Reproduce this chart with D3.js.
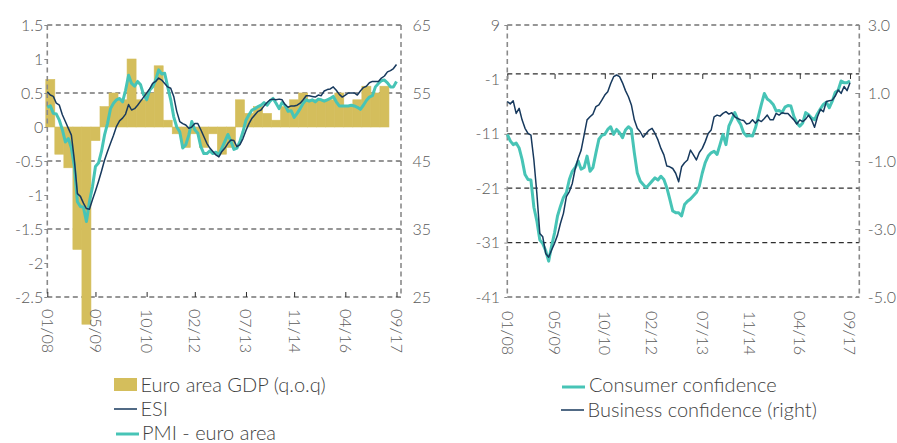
<!DOCTYPE html>
<html>
<head>
<meta charset="utf-8">
<script src="https://cdn.jsdelivr.net/npm/d3@7"></script>
<style>
  body { margin: 0; background: #fff; }
  text { font-family: Lato, "Open Sans", sans-serif; font-weight: 300; }
</style>
</head>
<body>
<script>
// x axis labels (month index from 01/2008)
var monthTicks = [0, 16, 33, 49, 66, 82, 99, 116];
var monthLabels = ["01/08", "05/09", "10/10", "02/12", "07/13", "11/14", "04/16", "09/17"];

// quarterly GDP q.o.q, 2008Q1 - 2017Q2
var gdpQoq = [0.7, -0.4, -0.6, -1.8, -2.9, -0.2, 0.3, 0.5,
  0.4, 1.0, 0.4, 0.5, 0.9, 0.1, -0.1, -0.3,
  -0.1, -0.3, -0.1, -0.4, -0.3, 0.4, 0.2, 0.3,
  0.2, 0.1, 0.3, 0.4, 0.5, 0.4, 0.4, 0.4,
  0.5, 0.3, 0.4, 0.6, 0.5, 0.6];

// monthly, 01/2008 - 09/2017 (right axis of left chart)
var esi = [55.2, 54.7, 54.5, 53.5, 53.2, 51.8, 50.8, 49.8, 48.8, 45.1,
  40.2, 39.8, 38.8, 38.0, 37.9, 39.3, 40.6, 42.0, 43.5, 45.1,
  46.4, 47.6, 48.8, 50.1, 50.9, 51.3, 51.9, 53.3, 52.5, 52.7,
  53.2, 53.8, 54.4, 55.0, 55.6, 56.4, 56.7, 57.2, 56.9, 56.4,
  55.9, 55.7, 54.5, 52.3, 50.8, 50.5, 50.3, 49.8, 50.0, 50.5,
  50.5, 49.6, 48.6, 47.6, 46.9, 46.4, 45.9, 45.6, 46.4, 46.9,
  47.6, 48.1, 48.0, 47.1, 47.4, 48.3, 49.5, 50.5, 51.3, 51.8,
  52.3, 52.5, 53.1, 53.6, 54.0, 54.1, 54.0, 54.1, 54.0, 53.3,
  52.9, 53.1, 53.1, 53.2, 53.5, 54.0, 54.6, 54.6, 54.5, 54.4,
  54.7, 54.6, 55.3, 55.5, 55.6, 55.9, 55.4, 54.8, 54.4, 54.7,
  55.0, 55.0, 55.0, 54.7, 55.3, 55.8, 56.0, 56.5, 56.7, 56.7,
  56.7, 57.2, 57.5, 58.1, 58.3, 58.6, 59.2];

var pmi = [52.9, 53.1, 52.0, 51.9, 51.0, 49.6, 47.8, 48.3, 46.9, 44.2,
  39.0, 38.3, 38.2, 36.1, 39.0, 41.2, 44.2, 44.7, 46.4, 48.8,
  50.5, 52.7, 53.5, 54.0, 54.2, 53.7, 55.4, 57.6, 56.4, 56.0,
  56.7, 56.2, 54.7, 54.0, 55.4, 55.9, 56.9, 58.4, 57.8, 57.9,
  55.9, 54.0, 51.5, 50.0, 49.3, 46.9, 47.4, 48.8, 50.8, 49.6,
  49.1, 47.1, 46.1, 46.1, 46.5, 46.1, 46.3, 45.9, 46.9, 47.9,
  48.9, 47.9, 46.7, 46.9, 47.9, 49.3, 51.0, 51.8, 52.5, 52.7,
  53.0, 53.2, 53.6, 53.2, 53.8, 54.2, 53.5, 52.7, 53.6, 53.2,
  52.3, 52.4, 51.4, 52.0, 52.7, 53.5, 54.0, 53.8, 54.0, 53.7,
  54.1, 54.0, 53.8, 54.0, 54.2, 54.5, 53.7, 53.1, 53.1, 53.1,
  53.1, 53.2, 53.1, 52.9, 52.6, 53.2, 53.9, 54.4, 54.6, 55.9,
  56.4, 56.8, 56.9, 56.5, 55.9, 55.9, 56.7];

// monthly, 01/2008 - 09/2017 (right chart)
var consumerConf = [-11.1, -12.3, -13.0, -12.7, -13.6, -15.7, -18.5, -19.4, -19.5, -24.5,
  -27.0, -30.5, -31.2, -32.5, -34.4, -31.6, -29.2, -26.1, -24.3, -22.7,
  -21.8, -19.4, -17.9, -17.2, -16.0, -17.5, -17.2, -15.1, -17.9, -17.2,
  -14.5, -12.0, -11.3, -11.1, -10.2, -9.7, -11.1, -10.2, -10.8, -11.7,
  -10.3, -9.7, -10.2, -14.5, -18.2, -19.7, -20.3, -20.9, -20.3, -19.7,
  -19.1, -19.5, -18.8, -19.4, -20.9, -23.0, -25.2, -25.5, -25.5, -26.1,
  -24.0, -23.4, -23.0, -22.4, -21.8, -20.6, -18.2, -16.3, -15.1, -14.5,
  -14.2, -14.8, -13.0, -11.1, -13.0, -9.6, -8.4, -7.1, -8.4, -9.3,
  -10.8, -11.4, -11.3, -11.4, -9.9, -7.8, -5.6, -3.6, -4.6, -5.0,
  -5.6, -6.8, -6.7, -7.1, -6.1, -5.8, -5.9, -7.8, -9.0, -9.6,
  -9.0, -7.1, -7.5, -8.1, -8.4, -7.3, -6.4, -5.6, -5.2, -6.2,
  -5.0, -3.4, -3.0, -1.3, -1.6, -1.6, -1.3];

var businessConf = [0.75, 0.68, 0.77, 0.40, 0.55, 0.21, -0.04, -0.19, -0.24, -0.97,
  -1.95, -3.13, -3.23, -3.72, -3.83, -3.62, -3.42, -3.18, -2.83, -2.54,
  -2.05, -1.90, -1.66, -1.22, -0.92, -0.68, -0.24, 0.21, 0.30, 0.38,
  0.60, 0.65, 0.79, 0.94, 1.04, 1.28, 1.48, 1.53, 1.48, 1.30,
  1.07, 0.89, 0.65, 0.21, -0.04, -0.14, -0.30, -0.19, -0.09, -0.04,
  -0.19, -0.38, -0.63, -0.82, -1.15, -1.17, -1.22, -1.36, -1.61, -1.17,
  -1.05, -0.97, -0.68, -0.82, -0.97, -0.75, -0.63, -0.43, -0.19, -0.09,
  0.30, 0.35, 0.32, 0.40, 0.45, 0.38, 0.42, 0.30, 0.25, 0.21,
  0.19, 0.09, 0.11, 0.21, 0.11, 0.21, 0.16, 0.25, 0.35, 0.21,
  0.21, 0.40, 0.35, 0.42, 0.40, 0.40, 0.30, 0.21, 0.09, 0.21,
  0.16, 0.23, 0.35, 0.21, -0.01, 0.30, 0.52, 0.45, 0.75, 0.77,
  0.79, 0.91, 1.09, 0.99, 1.19, 1.07, 1.30];

// axis ticks
var gdpTicks = [1.5, 1, 0.5, 0, -0.5, -1, -1.5, -2, -2.5];
var indexTicks = [65, 55, 45, 35, 25];
var consumerTicks = [9, -1, -11, -21, -31, -41];
var businessTicks = [3, 1, -1, -3, -5];

var gold = "#d4be5c", navy = "#17395d", teal = "#47c4b6";
var gridCol = "#2e2e2e", axisCol = "#8a8a8a", labelCol = "#5a5a5a", legendCol = "#3f3f3f";
var dash = "5,3.5";

var svg = d3.select("body")
  .append("svg")
  .attr("width", 897)
  .attr("height", 443);

// style tick labels of an axis group
function styleAxis(g) {
  g.attr("font-family", null).attr("font-size", 16);
  g.selectAll("text").attr("fill", labelCol);
  g.selectAll("line").attr("stroke", axisCol);
  g.select(".domain").remove();
}

function vLine(x, y1, y2) {
  svg.append("line")
    .attr("x1", x).attr("x2", x).attr("y1", y1).attr("y2", y2)
    .attr("stroke", axisCol).attr("stroke-width", 1.6)
    .attr("stroke-dasharray", dash);
}

function hGrid(y, x1, x2) {
  svg.append("line")
    .attr("x1", x1).attr("x2", x2).attr("y1", y).attr("y2", y)
    .attr("stroke", gridCol).attr("stroke-width", 1.2)
    .attr("stroke-dasharray", dash);
}

// ---------- left chart ----------
var xL = d3.scaleLinear().domain([0, 117.5]).range([47.3, 401]);
var yGdp = d3.scaleLinear().domain([-2.5, 1.5]).range([297, 25]);
var yIdx = d3.scaleLinear().domain([25, 65]).range([297, 25]);

indexTicks.forEach(d => hGrid(yIdx(d), 47.3, 401));

svg.append("g").selectAll("rect")
  .data(gdpQoq)
  .join("rect")
  .attr("x", (d, i) => xL(3 * i - 0.5))
  .attr("width", (d, i) => xL(3 * i + 2.5) - xL(3 * i - 0.5))
  .attr("y", d => yGdp(Math.max(0, d)))
  .attr("height", d => Math.abs(yGdp(d) - yGdp(0)))
  .attr("fill", gold)
  .attr("stroke", gold)
  .attr("stroke-width", 0.6);

vLine(47.3, 25, 297);
vLine(401, 25, 297);

var lineL = d3.line().x((d, i) => xL(i)).y(d => yIdx(d));

svg.append("path").datum(pmi)
  .attr("d", lineL).attr("fill", "none")
  .attr("stroke", teal).attr("stroke-width", 3).attr("stroke-linejoin", "round");

svg.append("path").datum(esi)
  .attr("d", lineL).attr("fill", "none")
  .attr("stroke", navy).attr("stroke-width", 1.5).attr("stroke-linejoin", "round");

svg.append("g")
  .attr("transform", "translate(47.3,0)")
  .call(d3.axisLeft(yGdp).tickValues(gdpTicks).tickSize(3).tickPadding(1).tickFormat(d => String(d)))
  .call(styleAxis);

svg.append("g")
  .attr("transform", "translate(401,0)")
  .call(d3.axisRight(yIdx).tickValues(indexTicks).tickSizeInner(-4).tickSizeOuter(0).tickPadding(11.5).tickFormat(d => String(d)))
  .call(styleAxis);

svg.append("g")
  .attr("transform", "translate(0,297)")
  .call(d3.axisBottom(xL).tickValues(monthTicks).tickSize(-5).tickFormat(""))
  .call(g => { g.select(".domain").remove(); g.selectAll("line").attr("stroke", gridCol); });

svg.append("g").selectAll("text")
  .data(monthTicks)
  .join("text")
  .attr("transform", d => "translate(" + xL(d) + ",309) rotate(90)")
  .attr("dy", "0.35em")
  .attr("font-size", 16)
  .attr("fill", labelCol)
  .text((d, i) => monthLabels[i]);

// ---------- right chart ----------
var xR = d3.scaleLinear().domain([0, 119.15]).range([507.3, 859.3]);
var yCons = d3.scaleLinear().domain([-41, 9]).range([297, 25]);
var yBus = d3.scaleLinear().domain([-5, 3]).range([297, 25]);

consumerTicks.filter(d => d !== -1).forEach(d => hGrid(yCons(d), 507.3, 859.3));

// category axis crossing at 0
hGrid(yCons(0), 507.3, 859.3);

svg.append("g")
  .attr("transform", "translate(0," + yCons(0) + ")")
  .call(d3.axisBottom(xR).tickValues(monthTicks).tickSize(5).tickFormat(""))
  .call(g => { g.select(".domain").remove(); g.selectAll("line").attr("stroke", gridCol); });

vLine(507.3, 25, 297);
vLine(859.3, 25, 297);

var lineCons = d3.line().x((d, i) => xR(i)).y(d => yCons(d));
var lineBus = d3.line().x((d, i) => xR(i)).y(d => yBus(d));

svg.append("path").datum(consumerConf)
  .attr("d", lineCons).attr("fill", "none")
  .attr("stroke", teal).attr("stroke-width", 3).attr("stroke-linejoin", "round");

svg.append("path").datum(businessConf)
  .attr("d", lineBus).attr("fill", "none")
  .attr("stroke", navy).attr("stroke-width", 1.5).attr("stroke-linejoin", "round");

svg.append("g")
  .attr("transform", "translate(507.3,0)")
  .call(d3.axisLeft(yCons).tickValues(consumerTicks).tickSize(3).tickPadding(4.3).tickFormat(d => String(d)))
  .call(styleAxis);

svg.append("g")
  .attr("transform", "translate(859.3,0)")
  .call(d3.axisRight(yBus).tickValues(businessTicks).tickSizeInner(-4).tickSizeOuter(0).tickPadding(8.5).tickFormat(d => d.toFixed(1)))
  .call(styleAxis);

svg.append("g").selectAll("text")
  .data(monthTicks)
  .join("text")
  .attr("transform", d => "translate(" + xR(d) + ",311) rotate(90)")
  .attr("dy", "0.35em")
  .attr("font-size", 16)
  .attr("fill", labelCol)
  .text((d, i) => monthLabels[i]);

// ---------- legends ----------
var legL = svg.append("g");
legL.append("rect").attr("x", 114).attr("y", 378).attr("width", 23).attr("height", 13).attr("fill", gold);
legL.append("line").attr("x1", 114).attr("x2", 137).attr("y1", 409).attr("y2", 409)
  .attr("stroke", navy).attr("stroke-width", 1.5);
legL.append("line").attr("x1", 116).attr("x2", 139).attr("y1", 434).attr("y2", 434)
  .attr("stroke", teal).attr("stroke-width", 3);
legL.selectAll("text")
  .data(["Euro area GDP (q.o.q)", "ESI", "PMI - euro area"])
  .join("text")
  .attr("x", (d, i) => i === 2 ? 142 : 140.5)
  .attr("y", (d, i) => 392 + i * 24)
  .attr("font-size", 20)
  .attr("fill", legendCol)
  .text(d => d);

var legR = svg.append("g");
legR.append("line").attr("x1", 562).attr("x2", 585).attr("y1", 387).attr("y2", 387)
  .attr("stroke", teal).attr("stroke-width", 3);
legR.append("line").attr("x1", 561).attr("x2", 584).attr("y1", 410).attr("y2", 410)
  .attr("stroke", navy).attr("stroke-width", 1.5);
legR.selectAll("text")
  .data(["Consumer confidence", "Business confidence (right)"])
  .join("text")
  .attr("x", (d, i) => i === 0 ? 589 : 587.5)
  .attr("y", (d, i) => 392 + i * 25)
  .attr("font-size", 20)
  .attr("fill", legendCol)
  .text(d => d);
</script>
</body>
</html>
